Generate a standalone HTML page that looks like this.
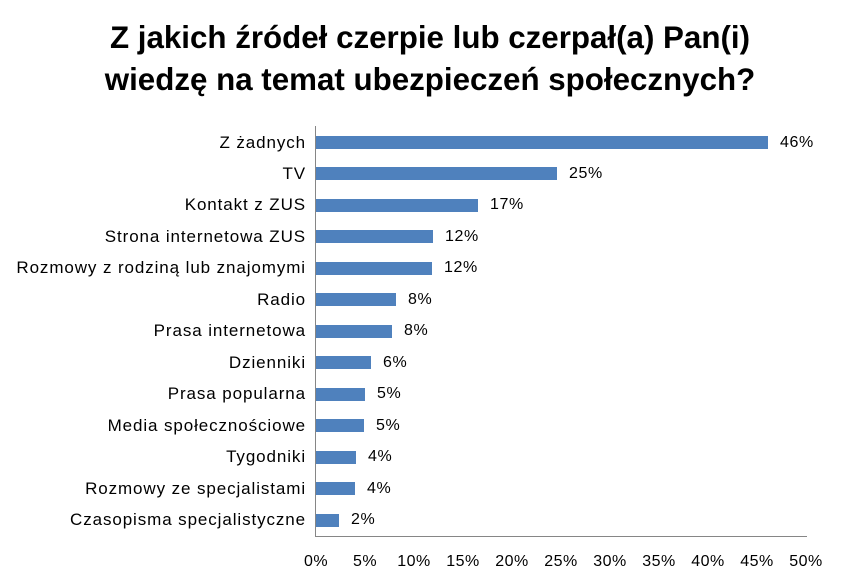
<!DOCTYPE html>
<html><head><meta charset="utf-8"><style>
body{margin:0;width:844px;height:585px;background:#fff;font-family:"Liberation Sans","DejaVu Sans",sans-serif;position:relative;overflow:hidden}
.t{position:absolute;left:0;width:860px;text-align:center;font-weight:bold;font-size:31.3px;color:#000}
.c{position:absolute;right:538px;font-size:17px;letter-spacing:0.9px;white-space:nowrap;line-height:18px}
.b{position:absolute;left:316px;height:13px;background:#4f81bd}
.v{position:absolute;font-size:16px;letter-spacing:0.6px;line-height:18px}
.x{position:absolute;top:553px;font-size:16px;letter-spacing:0.5px;width:60px;text-align:center;line-height:18px}
</style></head><body>
<div class="t" style="top:20px">Z jakich źródeł czerpie lub czerpał(a) Pan(i)</div>
<div class="t" style="top:62px">wiedzę na temat ubezpieczeń społecznych?</div>
<div style="position:absolute;left:315px;top:126px;width:1px;height:411px;background:#868686"></div>
<div style="position:absolute;left:315px;top:536px;width:492px;height:1px;background:#868686"></div>
<div id="r"></div>
<script>
var d=[["Z żadnych",768,"46%"],["TV",557,"25%"],["Kontakt z ZUS",478,"17%"],["Strona internetowa ZUS",433,"12%"],["Rozmowy z rodziną lub znajomymi",432,"12%"],["Radio",396,"8%"],["Prasa internetowa",392,"8%"],["Dzienniki",371,"6%"],["Prasa popularna",365,"5%"],["Media społecznościowe",364,"5%"],["Tygodniki",356,"4%"],["Rozmowy ze specjalistami",355,"4%"],["Czasopisma specjalistyczne",339,"2%"]];
var h="";
d.forEach(function(e,i){var c=142.5+i*31.46;
h+='<div class="c" style="top:'+(c-9)+'px">'+e[0]+'</div>';
h+='<div class="b" style="top:'+(c-6.5)+'px;width:'+(e[1]-316)+'px"></div>';
h+='<div class="v" style="top:'+(c-9)+'px;left:'+(e[1]+12)+'px">'+e[2]+'</div>';});
for(var k=0;k<=10;k++){h+='<div class="x" style="left:'+(316+k*49-30)+'px">'+(k*5)+'%</div>';}
document.getElementById("r").innerHTML=h;
</script>
</body></html>
